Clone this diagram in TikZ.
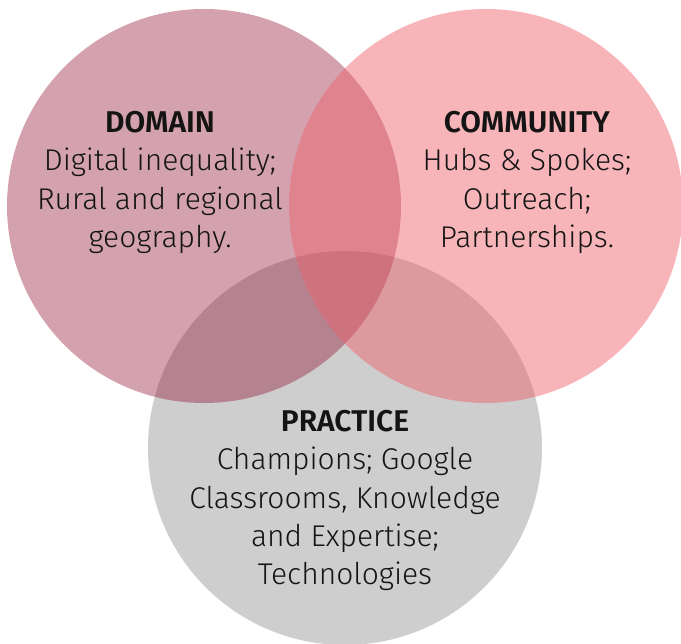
\documentclass[tikz,border=0pt]{standalone}
\usepackage{fontspec}
\setmainfont{Fira Sans}[UprightFont=* Light, BoldFont=* SemiBold]
\usepackage{tikz}
\usetikzlibrary{positioning}
\definecolor{domaincol}{RGB}{142,10,42}
\definecolor{communitycol}{RGB}{237,94,105}
\definecolor{practicecol}{RGB}{206,206,206}
\definecolor{inkcol}{RGB}{20,20,20}

\begin{document}
\begin{tikzpicture}[x=1pt,y=-1pt,
  ring/.style={circle, minimum size=394pt, inner sep=0pt},
  blurb/.style={align=center, anchor=base, text=inkcol,
    font=\fontsize{30}{38.5}\selectfont}]
			\useasboundingbox (0,0) rectangle (681,644);
			\node[ring, fill=practicecol] (practice) at (345,448) {};
			\node[ring, fill=domaincol, fill opacity=0.38] (domain) at (204,206) {};
			\node[ring, fill=communitycol, fill opacity=0.46] (community) at (486,206) {};
			\node[blurb] (domaintext) at (160,248) {\textbf{DOMAIN}\\Digital inequality;\\Rural and regional\\geography.};
			\node[blurb] (communitytext) at (527,248) {\textbf{COMMUNITY}\\Hubs \& Spokes;\\Outreach;\\Partnerships.};
			\node[blurb] (practicetext) at (345,585) {\textbf{PRACTICE}\\Champions; Google\\Classrooms, Knowledge\\and Expertise;\\Technologies};
		\end{tikzpicture}
\end{document}
